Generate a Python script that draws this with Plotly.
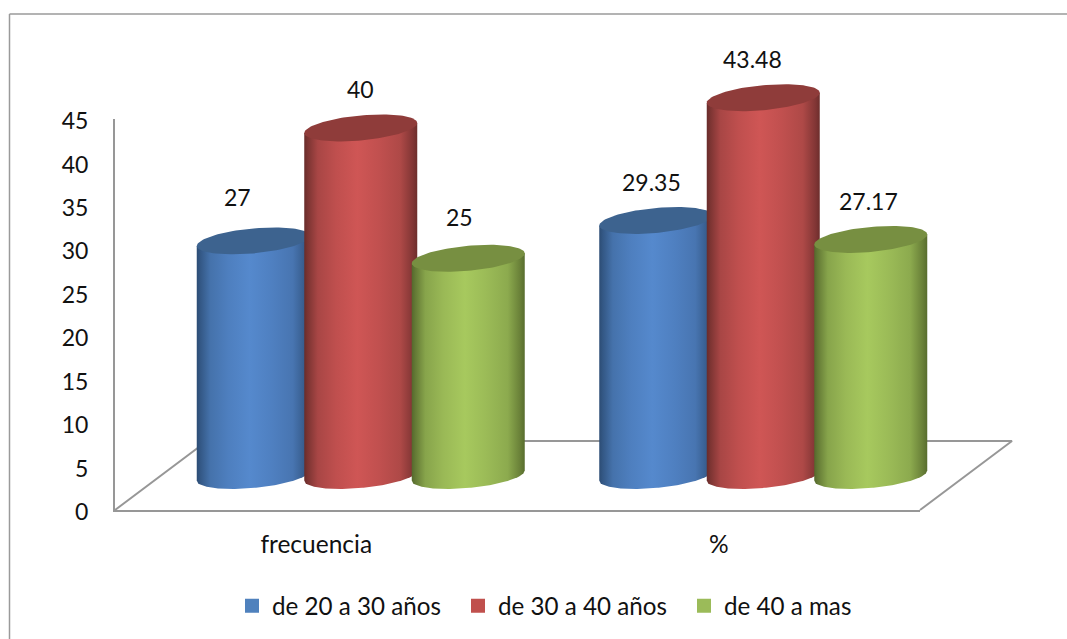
import numpy as np
import plotly.graph_objects as go

# Chart values
categories = ["frecuencia", "%"]
series_names = ["de 20 a 30 años", "de 30 a 40 años", "de 40 a mas"]
de_20_a_30 = [27, 29.35]
de_30_a_40 = [40, 43.48]
de_40_a_mas = [25, 27.17]
y_ticks = [0, 5, 10, 15, 20, 25, 30, 35, 40, 45]

series_values = [de_20_a_30, de_30_a_40, de_40_a_mas]

# Colours: legend swatch, cylinder edge, cylinder highlight, cap
swatch_colors = ["#4f81bd", "#c0504d", "#9bbb59"]
edge_colors = [(44, 76, 116), (104, 44, 42), (84, 104, 44)]
peak_colors = [(85, 137, 205), (207, 86, 85), (167, 201, 94)]
cap_colors = ["#3d638f", "#8f3c3a", "#778f41"]
GRID = "#979797"
FONT = "Lato"
TEXT = "#111111"

# Page geometry of the plotting box
W, H = 1067, 639
X0_PX, X1_PX = 115, 920
Y0_PX, Y45_PX = 510, 119
px_x = (X1_PX - X0_PX) / 2.0      # pixels per category
px_y = (Y0_PX - Y45_PX) / 45.0    # pixels per value unit

# Ranges of the full-page overlay axes that carry the cylinders, which rise past
# the top of the value axis; they share the scale of the visible axes
page_x_range = [-0.5 - X0_PX / px_x, -0.5 + (W - X0_PX) / px_x]
page_y_range = [(Y0_PX - H) / px_y, Y0_PX / px_y]

# Pseudo-3D projection, expressed in axis units
DEPTH_X = 92 / px_x
DEPTH_Y = 69 / px_y
BAR_STEP = 107.5 / px_x
RX = 56.5 / px_x
RY = 12.5 / px_y
TILT = 5 / px_y
GROUP_SHIFT = -1.5 / px_x

# Label nudges from the cylinder's top centre, in pixels
label_dx = [[-16, -4], [0, -11], [-9, -2]]
label_dy = [[44, 38], [39, 39], [41, 38]]

# Shading profile across a cylinder's width
shade_pos = [0.0, 0.03, 0.12, 0.28, 0.47, 0.66, 0.85, 0.96, 1.0]
shade_mix = [0.0, 0.18, 0.62, 0.84, 1.0, 0.86, 0.68, 0.25, 0.05]


def mix(a, b, t):
    return "rgb(%d,%d,%d)" % tuple(round(p + (q - p) * t) for p, q in zip(a, b))


def shade_scale(k):
    return [[p, mix(edge_colors[k], peak_colors[k], m)] for p, m in zip(shade_pos, shade_mix)]


fig = go.Figure()

# Empty trace that keeps the visible axes in the layout
fig.add_trace(go.Scatter(x=[0, 1], y=[0, 0], mode="none", showlegend=False, hoverinfo="skip"))

# Floor of the pseudo-3D box, drawn behind the cylinders
floor_x = [-0.5, -0.5 + DEPTH_X, 1.5 + DEPTH_X, 1.5]
floor_y = [0, DEPTH_Y, DEPTH_Y, 0]
fig.add_trace(go.Scatter(
    x=floor_x, y=floor_y, xaxis="x2", yaxis="y2", mode="lines",
    line=dict(color=GRID, width=2), showlegend=False, hoverinfo="skip",
))

# One cylinder per value: a shaded body, then the flat top cap
theta = np.linspace(0, 2 * np.pi, 121)
arc = np.linspace(-1, 1, 81)
annotations = []
for c in range(len(categories)):
    for k, values in enumerate(series_values):
        v = values[c]
        cx = c + DEPTH_X / 2 + GROUP_SHIFT + (k - 1) * BAR_STEP
        base = DEPTH_Y / 2
        top = v + base

        bottom_y = base - RY * np.sqrt(1 - arc ** 2) + TILT * arc
        body_x = np.concatenate([cx + RX * arc, [cx + RX, cx - RX]])
        body_y = np.concatenate([bottom_y, [top + TILT, top - TILT]])
        fig.add_trace(go.Scatter(
            x=body_x, y=body_y, xaxis="x2", yaxis="y2", mode="lines",
            line=dict(width=0), fill="toself",
            fillgradient=dict(type="horizontal", colorscale=shade_scale(k),
                              start=cx - RX, stop=cx + RX),
            showlegend=False, hoverinfo="skip",
        ))

        cap_x = cx + RX * np.cos(theta)
        cap_y = top + RY * np.sin(theta) + TILT * np.cos(theta)
        fig.add_trace(go.Scatter(
            x=cap_x, y=cap_y, xaxis="x2", yaxis="y2", mode="lines",
            line=dict(width=0), fill="toself", fillcolor=cap_colors[k],
            showlegend=False, hoverinfo="skip",
        ))

        annotations.append(dict(
            x=cx, y=top, xref="x2", yref="y2", text=f"{v:g}", showarrow=False,
            xshift=label_dx[k][c], yshift=label_dy[k][c],
            font=dict(family=FONT, size=23, color=TEXT),
        ))

# Legend entries
for name, color in zip(series_names, swatch_colors):
    fig.add_trace(go.Scatter(
        x=[None], y=[None], mode="markers", name=name,
        marker=dict(symbol="square", size=14, color=color),
    ))

fig.update_layout(
    width=W, height=H,
    margin=dict(l=0, r=0, t=0, b=0, autoexpand=False),
    paper_bgcolor="white", plot_bgcolor="rgba(0,0,0,0)",
    font=dict(family=FONT, size=23, color=TEXT),
    annotations=annotations,
    hovermode=False,
    xaxis=dict(
        domain=[X0_PX / W, X1_PX / W], range=[-0.5, 1.5],
        tickmode="array", tickvals=[0, 1], ticktext=categories,
        showgrid=False, zeroline=False, ticks="",
        showline=True, linecolor=GRID, linewidth=2,
        ticklabelstandoff=12,
        tickfont=dict(family=FONT, size=24.5, color=TEXT),
    ),
    yaxis=dict(
        domain=[(H - Y0_PX) / H, (H - Y45_PX) / H], range=[0, 45],
        tickmode="array", tickvals=y_ticks,
        showgrid=False, zeroline=False, ticks="",
        showline=True, linecolor=GRID, linewidth=2,
        ticklabelstandoff=20, ticklabelshift=2,
        tickfont=dict(family=FONT, size=23, color=TEXT),
    ),
    xaxis2=dict(domain=[0, 1], range=page_x_range, visible=False, anchor="y2"),
    yaxis2=dict(domain=[0, 1], range=page_y_range, visible=False, anchor="x2"),
    legend=dict(
        orientation="h", x=232 / W, y=(H - 606) / H, xanchor="left", yanchor="middle",
        entrywidth=181, entrywidthmode="pixels",
        font=dict(family=FONT, size=24.2, color=TEXT),
        bgcolor="rgba(0,0,0,0)", itemclick=False, itemdoubleclick=False,
    ),
    shapes=[
        dict(type="line", xref="paper", yref="paper", x0=9.5 / W, x1=1, y0=(H - 14) / H, y1=(H - 14) / H,
             line=dict(color="#9a9a9a", width=1.5)),
        dict(type="line", xref="paper", yref="paper", x0=9.5 / W, x1=9.5 / W, y0=0, y1=(H - 14) / H,
             line=dict(color="#9a9a9a", width=1.5)),
    ],
)

fig.write_html("out.html", config=dict(displayModeBar=False))
